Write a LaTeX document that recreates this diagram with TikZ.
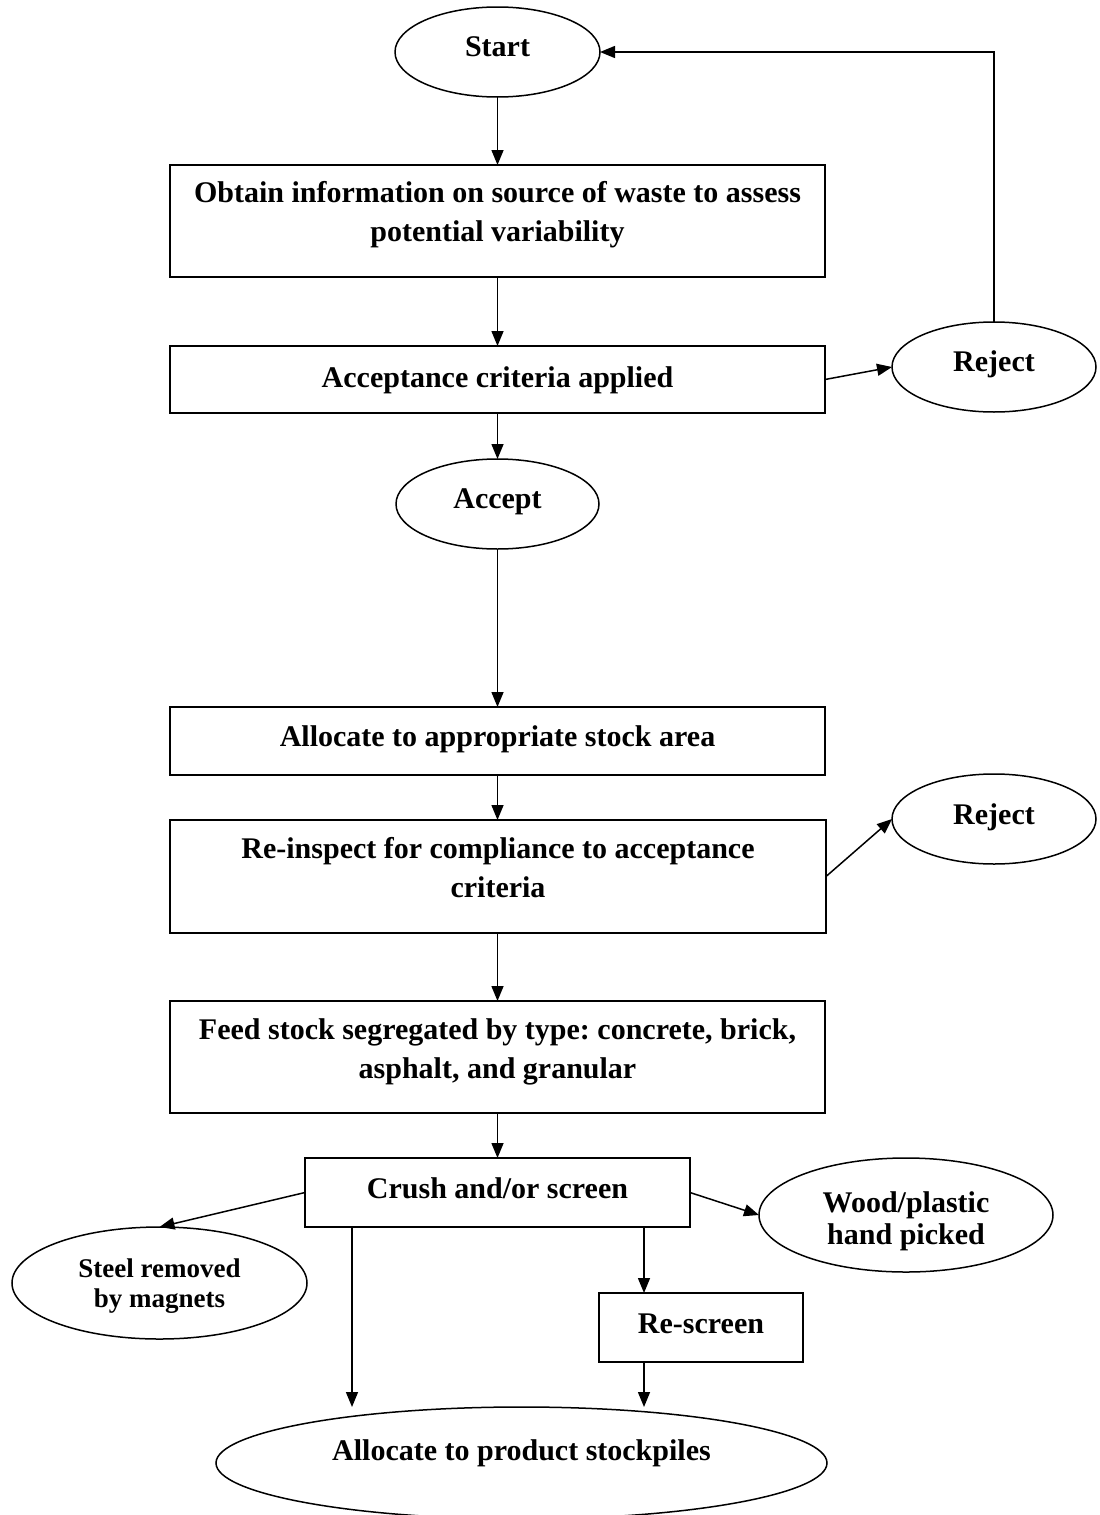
\documentclass[tikz,border=0pt]{standalone}
\usepackage{fontspec}
\setmainfont{Liberation Serif}
\usetikzlibrary{shapes.geometric,arrows.meta}
\frenchspacing
\begin{document}
\begin{tikzpicture}[x=1pt,y=-1pt,
  every node/.style={font=\fontsize{30}{39}\selectfont\bfseries, inner sep=0pt, outer sep=0pt, align=flush center},
  proc/.style={draw, line width=1.8pt, rectangle},
  term/.style={draw, line width=1.5pt, ellipse},
  conn/.style={line width=1.5pt, -{Triangle[length=15pt,width=12pt]}}]
\useasboundingbox (0,0) rectangle (1100,1515);
\clip (0,0) rectangle (1100,1515);
% nodes
\node[term, minimum width=205pt, minimum height=90pt, text height=8pt, text depth=0pt] (start) at (497.5,52) {Start};
\node[proc, minimum width=655pt, minimum height=112pt, text width=640pt, text height=0pt, text depth=38pt] (obtain) at (497.5,221) {Obtain information on source of waste to assess\\potential variability};
\node[proc, minimum width=655pt, minimum height=67pt, text height=15pt, text depth=0pt] (crit) at (497.5,379.5) {Acceptance criteria applied};
\node[term, minimum width=203pt, minimum height=90pt, text height=8pt, text depth=0pt] (accept) at (497.5,504) {Accept};
\node[term, minimum width=204pt, minimum height=90pt, text height=8pt, text depth=0pt] (reject1) at (994,367) {Reject};
\node[proc, minimum width=655pt, minimum height=68pt, text height=10pt, text depth=0pt] (stockarea) at (497.5,741) {Allocate to appropriate stock area};
\node[term, minimum width=204pt, minimum height=90pt, text height=10pt, text depth=0pt] (reject2) at (994,819) {Reject};
\node[proc, minimum width=656pt, minimum height=113pt, text width=640pt, text height=0pt, text depth=37pt] (reinspect) at (498,876.5) {Re-inspect for compliance to acceptance\\criteria};
\node[proc, minimum width=655pt, minimum height=112pt, text width=640pt, text height=0pt, text depth=36pt] (feed) at (497.5,1057) {Feed stock segregated by type: concrete, brick,\\asphalt, and granular};
\node[proc, minimum width=385pt, minimum height=69pt, text height=11pt, text depth=0pt] (crush) at (497.5,1192.5) {Crush and/or screen};
\node[term, minimum width=295pt, minimum height=112pt, text width=200pt, font=\fontsize{27}{30}\selectfont\bfseries, text height=0pt, text depth=12pt] (steel) at (159.5,1283) {Steel removed\\by magnets};
\node[term, minimum width=294pt, minimum height=114pt, text width=200pt, font=\fontsize{30}{32}\selectfont\bfseries, text height=0pt, text depth=6pt] (wood) at (906,1215) {Wood/plastic\\hand picked};
\node[proc, minimum width=204pt, minimum height=69pt, text height=11pt, text depth=0pt] (rescreen) at (701,1327.5) {Re-screen};
\node[term, minimum width=611pt, minimum height=112pt, text height=0pt, text depth=6pt] (stock) at (521.5,1463) {Allocate to product stockpiles};
% connectors
\draw[conn] (start.south) -- (obtain.north);
\draw[conn] (obtain.south) -- (crit.north);
\draw[conn] (crit.south) -- (accept.north);
\draw[conn] (accept.south) -- (stockarea.north);
\draw[conn] (stockarea.south) -- (reinspect.north -| stockarea.south);
\draw[conn] (reinspect.south -| feed.north) -- (feed.north);
\draw[conn] (feed.south) -- (crush.north);
\draw[conn] (crit.east) -- (reject1.west);
\draw[conn] (reject1.north) |- (start.east);
\draw[conn] (reinspect.east) -- (reject2.west);
\draw[conn] (crush.west) -- (steel.north);
\draw[conn] (crush.east) -- (wood.west);
\coordinate (m1) at (352,0);
\coordinate (m2) at (644,0);
\draw[conn] (crush.south -| m1) -- (stock.north -| m1);
\draw[conn] (crush.south -| m2) -- (rescreen.north -| m2);
\draw[conn] (rescreen.south -| m2) -- (stock.north -| m2);
\end{tikzpicture}
\end{document}
